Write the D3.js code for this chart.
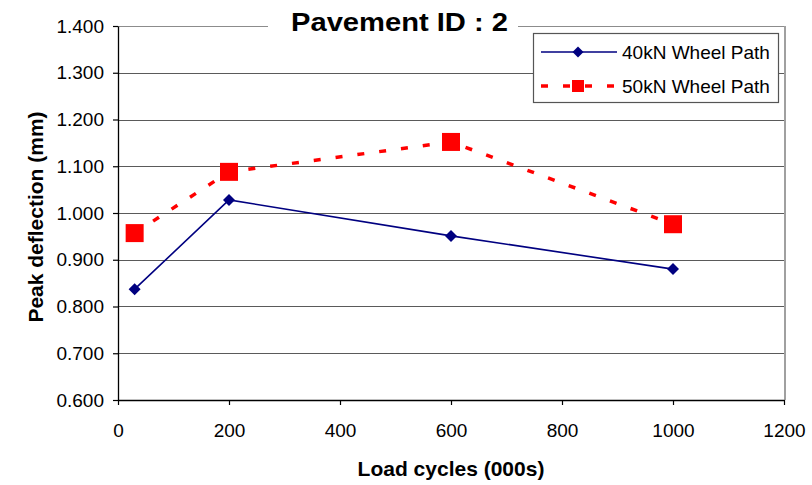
<!DOCTYPE html>
<html>
<head>
<meta charset="utf-8">
<script src="https://cdn.jsdelivr.net/npm/d3@7"></script>
<style>
  body { margin: 0; background: #fff; }
  text { font-family: Arial, "Liberation Sans", sans-serif; }
</style>
</head>
<body>
<div class="canvas"></div>
<script>
// dimensions
const w = 812;
const h = 485;
const margin = { top: 26, right: 28, bottom: 85, left: 118 };
const graphWidth = w - margin.left - margin.right;
const graphHeight = h - margin.top - margin.bottom;

// data
const loadCycles = [30, 200, 600, 1000];
const wheel40 = [0.837, 1.028, 0.951, 0.880];
const wheel50 = [0.957, 1.088, 1.152, 0.976];
const seriesNames = ["40kN Wheel Path", "50kN Wheel Path"];
const xTicks = [0, 200, 400, 600, 800, 1000, 1200];
const yTicks = [0.6, 0.7, 0.8, 0.9, 1.0, 1.1, 1.2, 1.3, 1.4];

const svg = d3.select(".canvas").append("svg").attr("width", w).attr("height", h);

const graph = svg.append("g")
  .attr("transform", `translate(${margin.left}, ${margin.top})`);

const xScale = d3.scaleLinear().domain([0, 1200]).range([0, graphWidth]);
const yScale = d3.scaleLinear().domain([0.6, 1.4]).range([graphHeight, 0]);

// gridlines
graph.selectAll("line.grid")
  .data(yTicks.slice(1))
  .enter()
  .append("line")
  .attr("class", "grid")
  .attr("x1", 0)
  .attr("x2", graphWidth)
  .attr("y1", d => Math.round(yScale(d)) + 0.5)
  .attr("y2", d => Math.round(yScale(d)) + 0.5)
  .attr("stroke", d => d === 1.4 ? "#8c8c8c" : "#5a5a5a")
  .attr("stroke-width", 1);

// right frame
graph.append("line")
  .attr("x1", graphWidth + 1).attr("x2", graphWidth + 1)
  .attr("y1", 0).attr("y2", graphHeight)
  .attr("stroke", "#a0a0a0")
  .attr("stroke-width", 2);

// axes
const xAxis = d3.axisBottom(xScale).tickValues(xTicks).tickSize(5).tickSizeOuter(0).tickFormat(d3.format("d"));
graph.append("g")
  .attr("transform", `translate(0, ${graphHeight})`)
  .call(xAxis)
  .call(g => g.selectAll("text").attr("font-size", 19).attr("y", 37).attr("dy", 0).attr("fill", "#000"));

const yAxis = d3.axisLeft(yScale).tickValues(yTicks).tickSize(5).tickSizeOuter(0).tickFormat(d3.format(".3f"));
graph.append("g")
  .call(yAxis)
  .call(g => g.selectAll("text").attr("font-size", 19).attr("x", -14).attr("fill", "#000"));

graph.selectAll(".domain").attr("stroke", "#000").attr("stroke-width", 1.3);
graph.selectAll(".tick line").attr("stroke", "#000").attr("stroke-width", 1.2);

// series lines
const line = d3.line().x((d, i) => xScale(loadCycles[i])).y(d => yScale(d));

graph.append("path")
  .datum(wheel50)
  .attr("d", line)
  .attr("fill", "none")
  .attr("stroke", "#ff0000")
  .attr("stroke-width", 3.5)
  .attr("stroke-dasharray", "7,15");

graph.append("path")
  .datum(wheel40)
  .attr("d", line)
  .attr("fill", "none")
  .attr("stroke", "#000080")
  .attr("stroke-width", 1.6);

const diamond = s => `M0,${-s}L${s},0L0,${s}L${-s},0Z`;

// markers
graph.selectAll("rect.m50")
  .data(wheel50)
  .enter()
  .append("rect")
  .attr("class", "m50")
  .attr("x", (d, i) => xScale(loadCycles[i]) - 9)
  .attr("y", d => yScale(d) - 9)
  .attr("width", 18)
  .attr("height", 18)
  .attr("fill", "#ff0000");

graph.selectAll("path.m40")
  .data(wheel40)
  .enter()
  .append("path")
  .attr("class", "m40")
  .attr("transform", (d, i) => `translate(${xScale(loadCycles[i])}, ${yScale(d)})`)
  .attr("d", diamond(6))
  .attr("fill", "#000080");

// title with white background
svg.append("rect")
  .attr("x", 268).attr("y", 4).attr("width", 250).attr("height", 34)
  .attr("fill", "#fff");
svg.append("text")
  .attr("x", 291)
  .attr("y", 31)
  .attr("font-size", 26)
  .attr("font-weight", "bold")
  .attr("textLength", 217)
  .attr("lengthAdjust", "spacingAndGlyphs")
  .text("Pavement ID : 2");

// axis titles
svg.append("text")
  .attr("x", 451)
  .attr("y", 476)
  .attr("text-anchor", "middle")
  .attr("font-size", 21)
  .attr("font-weight", "bold")
  .text("Load cycles (000s)");

svg.append("text")
  .attr("transform", `translate(43, 217) rotate(-90)`)
  .attr("text-anchor", "middle")
  .attr("font-size", 21)
  .attr("font-weight", "bold")
  .text("Peak deflection (mm)");

// legend
const legend = svg.append("g").attr("transform", "translate(533.5, 33.5)");
legend.append("rect")
  .attr("width", 245)
  .attr("height", 69)
  .attr("fill", "#fff")
  .attr("stroke", "#555")
  .attr("stroke-width", 1.2);

seriesNames.forEach((name, i) => {
  const y = 18.5 + i * 34;
  const row = legend.append("g").attr("transform", `translate(0, ${y})`);
  if (i === 0) {
    row.append("line").attr("x1", 7.5).attr("x2", 83.5).attr("stroke", "#000080").attr("stroke-width", 1.6);
    row.append("path").attr("transform", "translate(44.5,0)").attr("d", diamond(5.5)).attr("fill", "#000080");
  } else {
    row.append("line").attr("x1", 7.5).attr("x2", 83.5).attr("stroke", "#ff0000").attr("stroke-width", 3.5).attr("stroke-dasharray", "7,15");
    row.append("rect").attr("x", 38.5).attr("y", -6).attr("width", 12).attr("height", 12).attr("fill", "#ff0000");
  }
  row.append("text")
    .attr("x", 88.5)
    .attr("y", 7)
    .attr("font-size", 19)
    .text(name);
});
</script>
</body>
</html>
